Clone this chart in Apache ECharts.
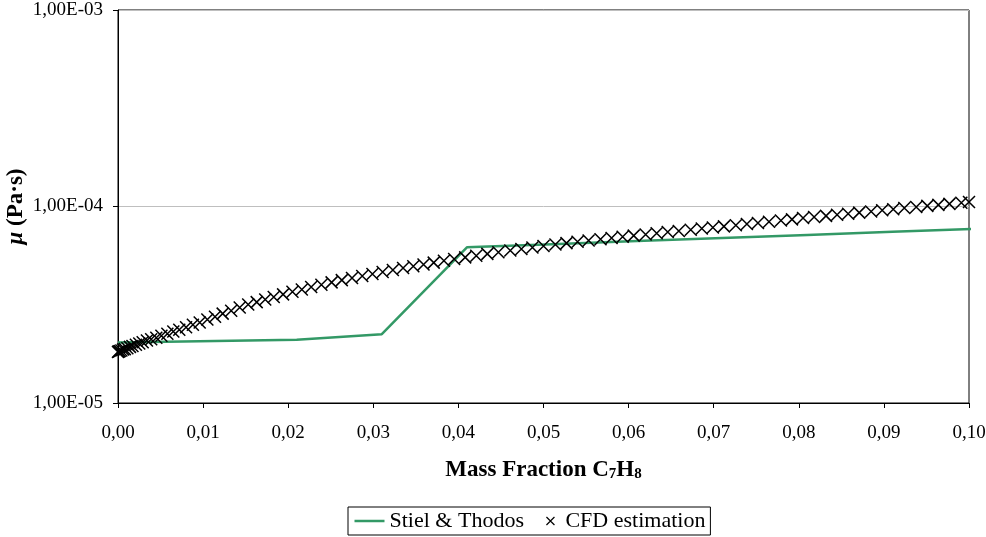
<!DOCTYPE html>
<html>
<head>
<meta charset="utf-8">
<script src="https://cdn.jsdelivr.net/npm/echarts@6/dist/echarts.min.js"></script>
<style>
  html, body { margin: 0; padding: 0; background: #fff; }
  #chart { width: 986px; height: 537px; }
</style>
</head>
<body>
<div id="chart"></div>
<script>
// Stiel & Thodos correlation
const stielX = [0, 0.021, 0.031, 0.041, 0.051, 0.061, 0.071, 0.081, 0.091, 0.1007];
const stielY = [2.03e-5, 2.10e-5, 2.24e-5, 6.20e-5, 6.43e-5, 6.67e-5, 6.91e-5, 7.16e-5, 7.43e-5, 7.69e-5];

// CFD estimation
const cfdX = [
  0, 0.0001, 0.0002, 0.0004, 0.0006, 0.0008, 0.0011, 0.0014, 0.0017, 0.0021, 0.0025, 0.0029, 0.0034, 0.0039,
  0.0045, 0.0051, 0.0058, 0.0065, 0.0072, 0.0080, 0.0088, 0.0096,
  0.0105, 0.0114, 0.0123, 0.0133, 0.0143, 0.0153, 0.0163, 0.0173, 0.0183, 0.0194,
  0.0205, 0.0216, 0.0227, 0.0239, 0.0251, 0.0263, 0.0275, 0.0287, 0.0299, 0.0311, 0.0323, 0.0335, 0.0347,
  0.0359, 0.0371, 0.0383, 0.0395,
  0.0408, 0.0421, 0.0434, 0.0447, 0.0461, 0.0474, 0.0487, 0.0500, 0.0514, 0.0527, 0.0540, 0.0553, 0.0567,
  0.0580, 0.0593, 0.0606, 0.0620, 0.0633, 0.0646, 0.0659, 0.0673, 0.0686, 0.0699, 0.0712, 0.0726, 0.0739,
  0.0752, 0.0765, 0.0779, 0.0792, 0.0805, 0.0818, 0.0832, 0.0845, 0.0858, 0.0871, 0.0885, 0.0898, 0.0911,
  0.0924, 0.0938, 0.0951, 0.0964, 0.0977, 0.0991, 0.1000
];
const cfdY = [
  1.82e-5, 1.83e-5, 1.84e-5, 1.85e-5, 1.87e-5, 1.88e-5, 1.90e-5, 1.93e-5, 1.95e-5, 1.98e-5, 2.01e-5, 2.04e-5, 2.08e-5, 2.11e-5,
  2.15e-5, 2.20e-5, 2.25e-5, 2.31e-5, 2.36e-5, 2.43e-5, 2.50e-5, 2.57e-5,
  2.66e-5, 2.75e-5, 2.85e-5, 2.95e-5, 3.06e-5, 3.17e-5, 3.26e-5, 3.36e-5, 3.46e-5, 3.57e-5,
  3.68e-5, 3.78e-5, 3.89e-5, 4.00e-5, 4.11e-5, 4.22e-5, 4.33e-5, 4.43e-5, 4.53e-5, 4.64e-5, 4.75e-5, 4.86e-5, 4.96e-5,
  5.07e-5, 5.18e-5, 5.29e-5, 5.40e-5,
  5.51e-5, 5.62e-5, 5.74e-5, 5.85e-5, 5.97e-5, 6.08e-5, 6.19e-5, 6.30e-5, 6.41e-5, 6.51e-5, 6.61e-5, 6.71e-5, 6.81e-5,
  6.91e-5, 7.01e-5, 7.11e-5, 7.21e-5, 7.31e-5, 7.41e-5, 7.51e-5, 7.62e-5, 7.72e-5, 7.82e-5, 7.92e-5, 8.03e-5, 8.14e-5,
  8.25e-5, 8.36e-5, 8.48e-5, 8.60e-5, 8.73e-5, 8.84e-5, 8.96e-5, 9.07e-5, 9.19e-5, 9.31e-5, 9.44e-5, 9.57e-5, 9.69e-5,
  9.82e-5, 9.95e-5, 10.07e-5, 10.19e-5, 10.31e-5, 10.45e-5, 10.54e-5
];

const FONT = "'Liberation Serif', 'Times New Roman', serif";
const GREEN = "#339966";
const CROSS = "path://M0,0L10,10M10,0L0,10";
// legend icons, padded so they sit like the reference's legend keys
const LINE_ICON = "path://M0,0M30,14M0,7L30,7";
const CROSS_ICON = "path://M0,0M30,14M16,3L24,11M24,3L16,11";

const chart = echarts.init(document.getElementById("chart"));

chart.setOption({
  animation: false,
  backgroundColor: "#fff",
  grid: {
    left: 118,
    right: 17,
    top: 10,
    bottom: 134,
    outerBoundsMode: "none",
    containLabel: false,
    show: true,
    borderColor: "#000",
    borderWidth: 1,
  },
  legend: {
    left: 348,
    top: 507,
    orient: "horizontal",
    padding: [3, 5, 3, 4],
    itemGap: 4,
    itemWidth: 30,
    itemHeight: 14,
    borderColor: "#000",
    borderWidth: 1,
    textStyle: { fontFamily: FONT, fontSize: 22, color: "#000" },
    data: [
      { name: "Stiel & Thodos", icon: LINE_ICON, itemStyle: { color: "none", borderColor: GREEN, borderWidth: 2.5 } },
      { name: "CFD estimation", icon: CROSS_ICON, itemStyle: { color: "none", borderColor: "#000", borderWidth: 1.2 } },
    ],
  },
  xAxis: {
    type: "value",
    min: 0,
    max: 0.1,
    interval: 0.01,
    name: "{b|Mass Fraction C}{s|7}{b|H}{s|8}",
    nameLocation: "middle",
    nameGap: 53,
    nameMoveOverlap: false,
    nameTextStyle: {
      rich: {
        b: { fontFamily: FONT, fontSize: 23, fontWeight: "bold", color: "#000", verticalAlign: "bottom", lineHeight: 26 },
        s: { fontFamily: FONT, fontSize: 15, fontWeight: "bold", color: "#000", verticalAlign: "bottom", lineHeight: 16 },
      },
    },
    axisLine: { lineStyle: { color: "#000", width: 1 } },
    axisTick: { show: true, inside: false, length: 5, lineStyle: { color: "#000" } },
    axisLabel: {
      margin: 21,
      fontFamily: FONT,
      fontSize: 19,
      color: "#000",
      formatter: (v) => v.toFixed(2).replace(".", ","),
    },
    splitLine: { show: false },
  },
  yAxis: {
    type: "log",
    logBase: 10,
    min: 1e-5,
    max: 1e-3,
    name: "{i|μ}{b| (Pa·s)}",
    nameLocation: "middle",
    nameRotate: 90,
    nameGap: 90,
    nameMoveOverlap: false,
    nameTextStyle: {
      rich: {
        i: { fontFamily: FONT, fontSize: 23, fontWeight: "bold", fontStyle: "italic", color: "#000" },
        b: { fontFamily: FONT, fontSize: 23, fontWeight: "bold", color: "#000" },
      },
    },
    axisLine: { show: true, lineStyle: { color: "#000", width: 1 } },
    axisTick: { show: true, inside: false, length: 5, lineStyle: { color: "#000" } },
    minorTick: { show: false },
    axisLabel: {
      margin: 15,
      fontFamily: FONT,
      fontSize: 19,
      color: "#000",
      formatter: (v) => {
        const e = Math.round(Math.log10(v));
        return "1,00E" + (e < 0 ? "-" : "+") + String(Math.abs(e)).padStart(2, "0");
      },
    },
    splitLine: { show: true, lineStyle: { color: "#bfbfbf", width: 1 } },
  },
  series: [
    {
      name: "Stiel & Thodos",
      type: "line",
      symbol: "none",
      clip: false,
      lineStyle: { color: GREEN, width: 2.5 },
      itemStyle: { color: GREEN },
      data: stielX.map((x, i) => [x, stielY[i]]),
      z: 2,
    },
    {
      name: "CFD estimation",
      type: "scatter",
      symbol: CROSS,
      symbolSize: 12,
      itemStyle: { color: "none", borderColor: "#000", borderWidth: 1.5, opacity: 1 },
      data: cfdX.map((x, i) => [x, cfdY[i]]),
      z: 3,
    },
  ],
});
</script>
</body>
</html>
